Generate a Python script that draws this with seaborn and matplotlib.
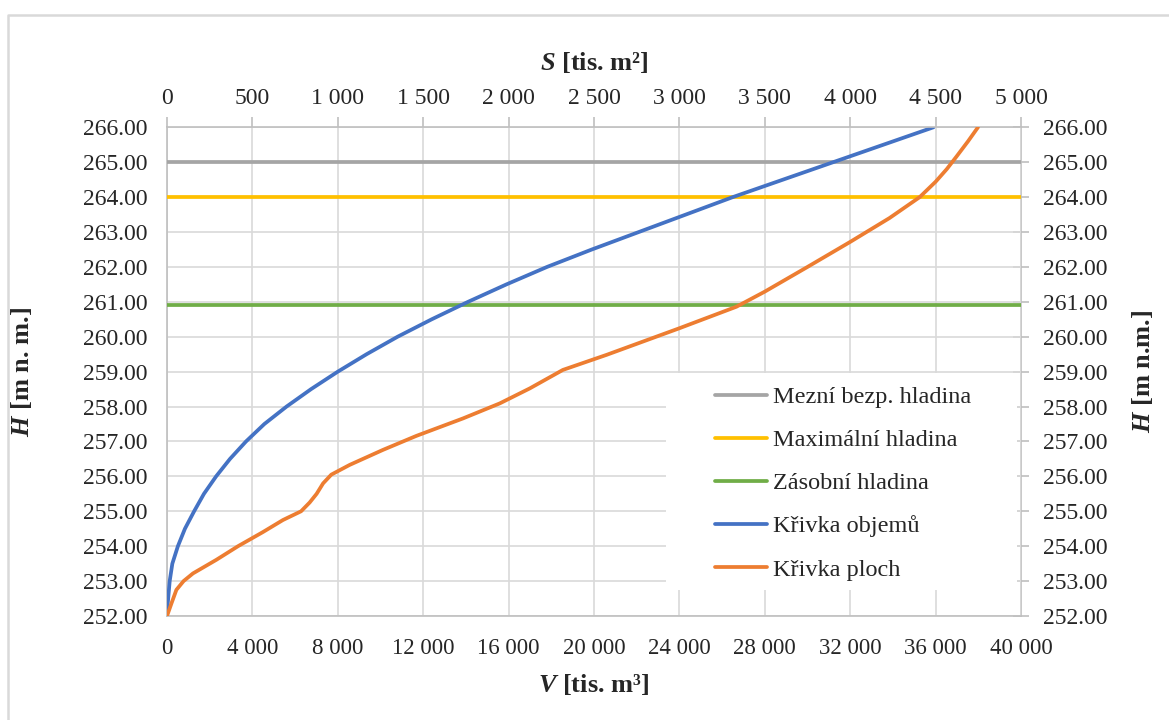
import matplotlib
matplotlib.use("Agg")
import matplotlib.pyplot as plt
import seaborn as sns
import pandas as pd
from matplotlib.ticker import FuncFormatter, MultipleLocator
from matplotlib.lines import Line2D
from matplotlib.patches import Rectangle

# ---------------- data ----------------
# volume curve (bottom axis V, tis. m3)
H_objem = [252.0, 252.25, 252.5, 253.0, 253.5, 254.0, 254.5, 255.0, 255.5, 256.0,
           256.5, 257.0, 257.5, 258.0, 258.5, 259.0, 259.5, 260.0, 260.5, 261.0,
           261.5, 262.0, 262.5, 263.0, 263.5, 264.0, 264.5, 265.0, 265.5, 266.0]
V_objem = [0, 20, 55, 126, 250, 510, 840, 1270, 1730, 2300,
           2950, 3700, 4560, 5600, 6750, 8000, 9350, 10800, 12400, 14100,
           15900, 17800, 19900, 22100, 24300, 26500, 28850, 31200, 33550, 35900]

# area curve (top axis S, tis. m2)
H_plocha = [252.0, 252.36, 252.75, 253.0, 253.22, 253.61, 254.0, 254.4, 254.75, 255.0,
            255.25, 255.5, 255.8, 256.05, 256.33, 256.76, 257.16, 257.66, 258.09, 258.52,
            259.05, 259.48, 260.24, 260.86, 261.29, 262.0, 262.72, 263.4, 264.0, 264.44,
            264.8, 265.16, 265.6, 266.0]
S_plocha = [0, 26, 55, 97, 152, 289, 416, 560, 679, 785,
            835, 876, 914, 962, 1070, 1265, 1460, 1733, 1948, 2124,
            2318, 2573, 2998, 3334, 3499, 3750, 4001, 4230, 4407, 4500,
            4565, 4622, 4690, 4748]

level_names = ["Mezní bezp. hladina", "Maximální hladina", "Zásobní hladina"]
level_values = [265.0, 264.0, 260.9]
level_colors = ["#A5A5A5", "#FFC000", "#70AD47"]
curve_names = ["Křivka objemů", "Křivka ploch"]
curve_colors = ["#4472C4", "#ED7D31"]

V_lim = [0, 40000]
S_lim = [0, 5000]
H_lim = [252, 266]

# ---------------- style ----------------
sns.set_style("white")
plt.rcParams["font.family"] = ["Liberation Serif", "DejaVu Serif"]
plt.rcParams["mathtext.fontset"] = "custom"
plt.rcParams["mathtext.it"] = "Liberation Serif:bold:italic"
plt.rcParams["mathtext.rm"] = "Liberation Serif:bold"
plt.rcParams["mathtext.bf"] = "Liberation Serif:bold"

W, Hpx = 1169, 720
fig = plt.figure(figsize=(W / 100, Hpx / 100), dpi=100)
fig.patch.set_facecolor("white")

x0, x1, y_top, y_bot = 167, 1021, 127.3, 616
ax = fig.add_axes([x0 / W, 1 - y_bot / Hpx, (x1 - x0) / W, (y_bot - y_top) / Hpx])

grid_c = "#d9d9d9"
spine_c = "#bfbfbf"
tick_fs = 17
xtick_fs = 16.5
leg_fs = 17.5
label_fs = 19
lw_series = 2.7

df_v = pd.DataFrame({"V": V_objem, "H": H_objem})
df_s = pd.DataFrame({"S": S_plocha, "H": H_plocha})

# horizontal levels
for name, val, col in zip(level_names, level_values, level_colors):
    ax.axhline(val, color=col, lw=lw_series, zorder=3)

sns.lineplot(data=df_v, x="V", y="H", sort=False, estimator=None, ax=ax,
             color=curve_colors[0], lw=lw_series, legend=False, zorder=4)

ax.set_xlim(*V_lim)
ax.set_ylim(*H_lim)
ax.xaxis.set_major_locator(MultipleLocator(4000))
ax.yaxis.set_major_locator(MultipleLocator(1))
ax.grid(True, color=grid_c, lw=1.2, zorder=0)
ax.set_axisbelow(True)

fmt_thousands = FuncFormatter(lambda v, p: f"{v:,.0f}".replace(",", " "))
fmt_h = FuncFormatter(lambda v, p: f"{v:.2f}")
ax.xaxis.set_major_formatter(fmt_thousands)
ax.yaxis.set_major_formatter(fmt_h)
ax.tick_params(axis="x", length=0, labelsize=xtick_fs, pad=16)
ax.tick_params(axis="y", length=0, labelsize=tick_fs, pad=14)
for s in ["left", "bottom"]:
    ax.spines[s].set_color(spine_c)
    ax.spines[s].set_linewidth(1.2)
for s in ["top", "right"]:
    ax.spines[s].set_visible(False)

ax.set_xlabel(r"$V$ [tis. m³]", fontsize=label_fs, fontweight="bold", labelpad=9)
ax.set_ylabel(r"$H$ [m n. m.]", fontsize=label_fs, fontweight="bold", labelpad=35)

# top axis: area curve
ax_top = ax.twiny()
sns.lineplot(data=df_s, x="S", y="H", sort=False, estimator=None, ax=ax_top,
             color=curve_colors[1], lw=lw_series, legend=False, zorder=4)
ax_top.set_xlim(*S_lim)
ax_top.set_ylim(*H_lim)
ax_top.grid(False)
ax_top.xaxis.set_major_locator(MultipleLocator(500))
ax_top.xaxis.set_major_formatter(fmt_thousands)
ax_top.tick_params(axis="x", direction="out", length=7, width=1.2, color=spine_c,
                   labelsize=tick_fs, pad=6)
for s in ["left", "bottom", "right"]:
    ax_top.spines[s].set_visible(False)
ax_top.spines["top"].set_color(spine_c)
ax_top.spines["top"].set_linewidth(1.2)
ax_top.set_xlabel(r"$S$ [tis. m²]", fontsize=label_fs, fontweight="bold", labelpad=13)
ax_top.set_ylabel("")

# right axis
sec = ax.secondary_yaxis("right")
sec.yaxis.set_major_locator(MultipleLocator(1))
sec.yaxis.set_major_formatter(fmt_h)
sec.tick_params(axis="y", direction="inout", length=12, width=1.2, color=spine_c,
                labelsize=tick_fs, pad=10)
sec.spines["right"].set_color(spine_c)
sec.spines["right"].set_linewidth(1.2)
sec.set_ylabel(r"$H$ [m n.m.]", fontsize=label_fs, fontweight="bold", labelpad=16)

# legend with white background box
bg = Rectangle((666 / W, 1 - 590 / Hpx), (1017 - 666) / W, (590 - 373) / Hpx,
               transform=fig.transFigure, facecolor="white", edgecolor="none",
               zorder=5)
ax_top.add_patch(bg)
bg.set_clip_on(False)
handles = [Line2D([], [], color=c, lw=lw_series) for c in level_colors + curve_colors]
labels = level_names + curve_names
leg = ax_top.legend(handles, labels, loc="upper left",
                    bbox_to_anchor=(715 / W, 1 - 386 / Hpx),
                    bbox_transform=fig.transFigure, frameon=False,
                    fontsize=leg_fs, handlelength=2.15, handletextpad=0.25,
                    labelspacing=0.87, borderpad=0, borderaxespad=0)
leg.set_zorder(6)

# chart-area border (light gray)
fig.add_artist(Line2D([8 / W, 8 / W, 1.0], [0.0, 1 - 15 / Hpx, 1 - 15 / Hpx],
                      transform=fig.transFigure, color=grid_c, lw=1.8))

fig.savefig("out.png", dpi=100, facecolor="white")
